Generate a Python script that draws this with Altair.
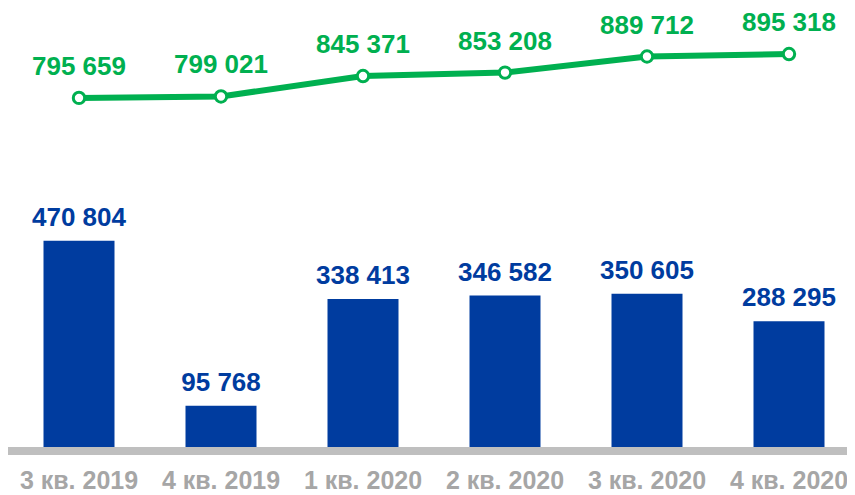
import altair as alt
import pandas as pd

quarters = ["3 кв. 2019", "4 кв. 2019", "1 кв. 2020", "2 кв. 2020", "3 кв. 2020", "4 кв. 2020"]
bar_values = [470804, 95768, 338413, 346582, 350605, 288295]
line_values = [795659, 799021, 845371, 853208, 889712, 895318]

BLUE = "#003C9F"
GREEN = "#00B050"
GRAY_TXT = "#A6A6A6"
GRAY_LINE = "#BFBFBF"
FONT = "Liberation Sans"

df = pd.DataFrame({"q": quarters, "bar": bar_values, "line": line_values})

W, H = 839, 440

x = alt.X(
    "q:N",
    sort=quarters,
    scale=alt.Scale(range=[0, 852], paddingInner=0.5, paddingOuter=0.25),
    axis=alt.Axis(
        title=None, domain=False, ticks=False, labelAngle=0,
        labelFontSize=25, labelFont=FONT, labelFontWeight="bold",
        labelColor=GRAY_TXT, labelPadding=40, labelBaseline="alphabetic",
    ),
)
yscale = alt.Scale(domain=[0, 1000000], nice=False, zero=True)

base = alt.Chart(df).encode(x=x).transform_calculate(
    bar_lbl="replace(format(datum.bar, ',d'), ',', ' ')",
    line_lbl="replace(format(datum.line, ',d'), ',', ' ')",
)

bars = base.mark_bar(color=BLUE).encode(
    y=alt.Y("bar:Q", scale=yscale, axis=None)
)
bar_text = base.mark_text(
    font=FONT, fontSize=26, fontWeight="bold", color=BLUE,
    baseline="alphabetic", dy=-15,
).encode(y=alt.Y("bar:Q", scale=yscale, axis=None), text="bar_lbl:N")

rule = alt.Chart(df).mark_rule(color=GRAY_LINE, strokeWidth=8).encode(
    x=alt.value(0), x2=alt.value(W), y=alt.value(H + 3)
)

line = base.mark_line(color=GREEN, strokeWidth=6).encode(
    y=alt.Y("line:Q", scale=yscale, axis=None)
)
points = base.mark_point(
    filled=True, fill="white", stroke=GREEN, strokeWidth=3, size=130, opacity=1
).encode(y=alt.Y("line:Q", scale=yscale, axis=None))
line_text = base.mark_text(
    font=FONT, fontSize=26, fontWeight="bold", color=GREEN,
    baseline="alphabetic", dy=-23,
).encode(y=alt.Y("line:Q", scale=yscale, axis=None), text="line_lbl:N")

chart = alt.layer(bars, rule, line, points, bar_text, line_text).properties(
    width=W, height=H,
    autosize=alt.AutoSizeParams(type="none"),
    padding={"left": 0, "right": 0, "top": 0, "bottom": 47},
).configure_view(stroke=None)

chart.save("out.html", embed_options={"renderer": "svg", "actions": False})
